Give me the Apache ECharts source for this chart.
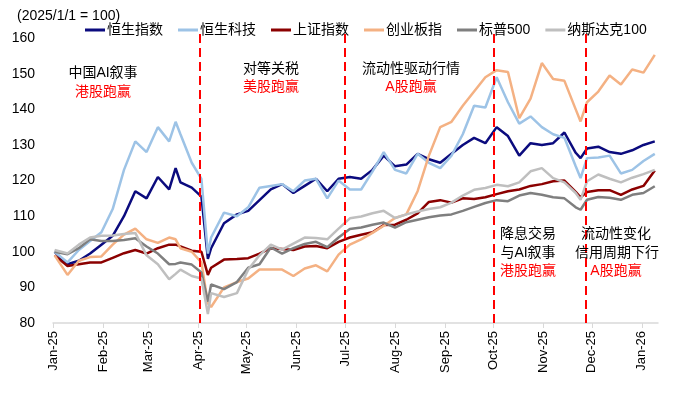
<!DOCTYPE html>
<html>
<head>
<meta charset="utf-8">
<script src="https://cdn.jsdelivr.net/npm/echarts@6.0.0/dist/echarts.min.js"></script>
<style>
  html, body { margin: 0; padding: 0; background: #fff; }
  #chart { width: 683px; height: 397px; }
</style>
</head>
<body>
<div id="chart"></div>
<script>
// weekly closes, rebased 2025/1/1 = 100
const dates = [
  '2025-01-02', '2025-01-10', '2025-01-17', '2025-01-24', '2025-01-31',
  '2025-02-07', '2025-02-14', '2025-02-21', '2025-02-28',
  '2025-03-07', '2025-03-14', '2025-03-18', '2025-03-21', '2025-03-28',
  '2025-04-03', '2025-04-07', '2025-04-09', '2025-04-17', '2025-04-25',
  '2025-05-02', '2025-05-09', '2025-05-16', '2025-05-23', '2025-05-30',
  '2025-06-06', '2025-06-13', '2025-06-20', '2025-06-27',
  '2025-07-04', '2025-07-11', '2025-07-18', '2025-07-25',
  '2025-08-01', '2025-08-08', '2025-08-15', '2025-08-22', '2025-08-29',
  '2025-09-05', '2025-09-12', '2025-09-19', '2025-09-26',
  '2025-10-03', '2025-10-10', '2025-10-17', '2025-10-24', '2025-10-31',
  '2025-11-07', '2025-11-14', '2025-11-21', '2025-11-24', '2025-11-28',
  '2025-12-05', '2025-12-12', '2025-12-19', '2025-12-26',
  '2026-01-02', '2026-01-09'
]

const hsi = [
  100, 96.5, 97.5, 99.5, 102,
  104.5, 110, 117, 115,
  121, 117.5, 123.5, 119.5, 118,
  115.5, 98, 101, 108, 110.5,
  111.5, 114.5, 117.5, 119, 116.5,
  118.5, 120.5, 117, 120.5,
  121, 120.5, 123, 127,
  124, 124.5, 127.5, 126, 125,
  127.5, 130, 132, 130.5,
  135, 132.5, 127, 130.5, 130,
  130.5, 133.5, 127.8, 126.3, 129,
  129.5, 128, 127.5, 128.5,
  130, 131
]

const hstech = [
  100, 97, 100.5, 103, 105.5,
  112, 123, 131, 128,
  135, 131, 136.5, 133, 125,
  120.5, 99.5, 104, 111, 110,
  112.5, 118, 118.5, 119, 117,
  120, 120.5, 115, 120,
  117.5, 117.5, 122.5, 128,
  123, 122, 127.5, 125, 123.5,
  127, 133, 141, 140.5,
  149, 142, 136, 138, 135,
  133, 132, 124, 120.7, 126.3,
  126.5, 127, 122, 123,
  125.5, 127.5
]

const sse = [
  99, 96, 96.5, 97, 97,
  98.3, 99.6, 100.5, 99.5,
  101, 102, 102, 101.5, 100.3,
  100, 93.5, 95.5, 97.8, 98,
  98.2, 99.5, 101, 100.8, 100.5,
  101.5, 101.6, 101, 102.8,
  104, 104.8, 105.5, 107.5,
  107.6, 109, 110.8, 114, 114.5,
  113.8, 115, 114.8, 115.3,
  116.2, 117, 117.5, 118.5, 119,
  119.8, 120, 116.8, 115.3, 116.8,
  117.3, 117.3, 116, 117.5,
  118.5, 122.8
]

const chinext = [
  99, 93.5, 97.5, 98.5, 98.7,
  102, 104.8, 106.5, 103.5,
  102.5, 104, 103.5, 101, 100,
  97, 85.5, 84.5, 90, 91.5,
  92.5, 95, 95, 95, 93.2,
  95.3, 96.2, 94.5, 99.2,
  102, 103.5, 105.3, 107.3,
  109.5, 110.5, 117, 127, 135,
  136.5, 141, 145, 149,
  151, 150.5, 137.5, 143, 153,
  148.5, 148, 140, 136.6, 142,
  145, 149.5, 147, 151.2,
  150.3, 155.3
]

const spx = [
  100, 99.3, 101, 103.5, 103,
  103, 103.3, 103.8, 101.5,
  99.5, 96.5, 96.6, 97, 96.4,
  94.2, 86, 90.8, 89.5, 91.5,
  95.5, 96.5, 101.2, 99.5, 101,
  102.2, 102.8, 101.3, 104,
  106.4, 106.8, 107.6, 108.2,
  106.8, 108.3, 109, 109.7, 110.2,
  110.5, 111.5, 112.6, 113.7,
  114.5, 114.2, 115.8, 116.5, 116,
  115.3, 115, 112.5, 111.8, 114.6,
  115.4, 115.2, 114.6, 116,
  116.5, 118.4
]

const ndx = [
  100.5, 99.5, 102, 104, 104.5,
  104.6, 105, 105.3, 99,
  96.5, 92.3, 93.8, 95, 93.2,
  92.5, 82.5, 88.4, 87.3, 88.4,
  95, 99, 102, 100.6, 102.3,
  104, 103.9, 103.5, 106.5,
  109.4, 109.9, 110.8, 111.5,
  109.5, 110.5, 111.3, 112, 112.5,
  113.8, 115.8, 117.4, 117.9,
  118.8, 118.4, 119.5, 122.6, 123.5,
  120.7, 119.5, 116.5, 114.6, 119.8,
  121.7, 120.5, 119.5, 120.8,
  121.8, 123
]

const seriesNames = ['恒生指数', '恒生科技', '上证指数', '创业板指', '标普500', '纳斯达克100']
const seriesColors = ['#0B0B7E', '#9DC3E6', '#8B0000', '#F4B183', '#7F7F7F', '#BFBFBF']
const seriesValues = [hsi, hstech, sse, chinext, spx, ndx]

const eventDates = ['2025-04-02', '2025-07-01', '2025-10-01', '2025-11-27']
const monthNames = ['Jan', 'Feb', 'Mar', 'Apr', 'May', 'Jun', 'Jul', 'Aug', 'Sep', 'Oct', 'Nov', 'Dec']
const yTicks = [80, 90, 100, 110, 120, 130, 140, 150, 160]

const FONT = "'Liberation Sans', Arial, 'Noto Sans CJK SC', sans-serif"

const notes = [
  { text: '中国AI叙事', x: 103, y: 73, red: false },
  { text: '港股跑赢', x: 103, y: 92, red: true },
  { text: '对等关税', x: 271, y: 69, red: false },
  { text: '美股跑赢', x: 271, y: 87, red: true },
  { text: '流动性驱动行情', x: 411, y: 69, red: false },
  { text: 'A股跑赢', x: 411, y: 87, red: true },
  { text: '降息交易', x: 528, y: 234, red: false },
  { text: '与AI叙事', x: 528, y: 253, red: false },
  { text: '港股跑赢', x: 528, y: 271, red: true },
  { text: '流动性变化', x: 616, y: 234, red: false },
  { text: '信用周期下行', x: 617, y: 253, red: false },
  { text: 'A股跑赢', x: 616, y: 271, red: true }
]

const chart = echarts.init(document.getElementById('chart'))

const series = seriesNames.map((name, i) => ({
  name,
  type: 'line',
  data: dates.map((d, j) => [d, seriesValues[i][j]]),
  showSymbol: false,
  symbol: 'none',
  lineStyle: { width: 2.5, color: seriesColors[i] },
  itemStyle: { color: seriesColors[i] },
  z: 2
}))

series[0].markLine = {
  silent: true,
  symbol: ['none', 'none'],
  label: { show: false },
  lineStyle: { color: '#FF0000', type: [9, 5], width: 2 },
  data: eventDates.map(d => ({ xAxis: d }))
}

chart.setOption({
  animation: false,
  backgroundColor: '#fff',
  title: {
    text: '(2025/1/1 = 100)',
    left: 12,
    top: 4,
    textStyle: { fontSize: 14, fontWeight: 'normal', color: '#000', fontFamily: FONT }
  },
  legend: {
    data: seriesNames,
    left: 80,
    top: 18,
    icon: 'rect',
    itemWidth: 20,
    itemHeight: 3,
    itemGap: 15,
    textStyle: { fontSize: 14, color: '#000', fontFamily: FONT, padding: [0, 0, 0, -3] }
  },
  grid: { left: 53, right: 25, top: 31, bottom: 74 },
  xAxis: {
    type: 'time',
    min: '2025-01-01',
    max: '2026-01-11',
    splitNumber: 13,
    minInterval: 28 * 86400000,
    maxInterval: 31 * 86400000,
    axisLine: { show: true, lineStyle: { color: '#D9D9D9', width: 1.5 } },
    axisTick: { show: true, length: 5, lineStyle: { color: '#D9D9D9' } },
    splitLine: { show: false },
    axisLabel: {
      rotate: 90,
      margin: 8,
      fontSize: 13,
      color: '#000',
      fontFamily: FONT,
      hideOverlap: false,
      formatter: (v) => {
        const d = new Date(v)
        return monthNames[d.getMonth()] + '-' + String(d.getFullYear()).slice(2)
      }
    }
  },
  yAxis: {
    type: 'value',
    min: 80,
    max: 162,
    interval: 10,
    axisLine: { show: false },
    axisTick: { show: false },
    splitLine: { show: false },
    axisLabel: {
      fontSize: 14,
      color: '#000',
      margin: 18,
      fontFamily: FONT,
      formatter: (v) => (yTicks.includes(v) ? String(v) : '')
    }
  },
  graphic: notes.map(n => ({
    type: 'text',
    x: n.x,
    y: n.y,
    style: {
      text: n.text,
      fill: n.red ? '#FF0000' : '#000',
      font: '14px ' + FONT,
      textAlign: 'center',
      textVerticalAlign: 'middle'
    },
    z: 10
  })),
  series
})
</script>
</body>
</html>
